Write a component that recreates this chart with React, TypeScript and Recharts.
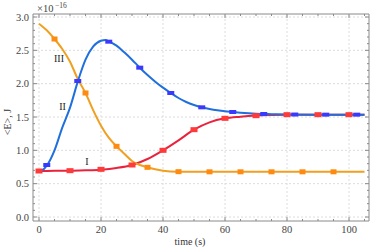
import React from 'react';
import { ComposedChart, Line, Scatter, XAxis, YAxis, ReferenceLine } from 'recharts';

// Curve I (red)
const curveI_t = [0, 5, 10, 15, 20, 25, 30, 35, 40, 45, 50, 55, 60, 65, 70, 75, 80, 90, 105];
const curveI_v = [0.69, 0.692, 0.695, 0.70, 0.71, 0.735, 0.78, 0.87, 1.0, 1.15, 1.31, 1.42, 1.48, 1.505, 1.522, 1.531, 1.535, 1.535, 1.535];
// Curve II (blue)
const curveII_t = [0, 1, 2.5, 5, 7.5, 10, 12.5, 15, 17.5, 20, 21.5, 22.5, 25, 27.5, 30, 32.5, 35, 37.5, 40, 42.5, 45, 47.5, 50, 52.5, 55, 57.5, 60, 62.5, 65, 70, 75, 80, 90, 105];
const curveII_v = [0.69, 0.70, 0.77, 1.0, 1.34, 1.64, 2.03, 2.36, 2.56, 2.645, 2.655, 2.635, 2.57, 2.47, 2.36, 2.24, 2.13, 2.03, 1.94, 1.86, 1.785, 1.725, 1.68, 1.645, 1.62, 1.60, 1.585, 1.575, 1.565, 1.55, 1.543, 1.538, 1.535, 1.535];
// Curve III (orange)
const curveIII_t = [0, 2.5, 5, 7.5, 10, 12.5, 15, 17.5, 20, 22.5, 25, 27.5, 30, 32.5, 35, 37.5, 40, 45, 50, 60, 105];
const curveIII_v = [2.90, 2.80, 2.67, 2.52, 2.33, 2.07, 1.86, 1.60, 1.37, 1.19, 1.06, 0.95, 0.84, 0.78, 0.745, 0.715, 0.695, 0.68, 0.678, 0.678, 0.678];

// Markers
const markI_t = [0, 10, 20, 30, 40, 50, 60, 70, 80, 90, 100];
const markI_v = [0.69, 0.695, 0.715, 0.78, 1.0, 1.31, 1.48, 1.52, 1.535, 1.535, 1.535];
const markII_t = [2.5, 12.5, 22.5, 32.5, 42.5, 52.5, 62.5, 72.5, 82.5, 92.5, 102.5];
const markII_v = [0.78, 2.04, 2.63, 2.24, 1.86, 1.645, 1.575, 1.545, 1.537, 1.535, 1.535];
const markIII_t = [5, 15, 25, 35, 45, 55, 65, 75, 85, 95];
const markIII_v = [2.67, 1.86, 1.06, 0.745, 0.68, 0.678, 0.678, 0.678, 0.678, 0.678];

const xMajor = [0, 20, 40, 60, 80, 100];
const yMajor = [0, 0.5, 1.0, 1.5, 2.0, 2.5, 3.0];
const xTicks: number[] = [];
for (let i = 0; i <= 21; i++) xTicks.push(i * 5);
const yTicks: number[] = [];
for (let i = 0; i <= 30; i++) yTicks.push(Math.round(i) / 10);

const zip = (t: number[], v: number[]) => t.map((tt, i) => ({ t: tt, v: v[i] }));
const dI = zip(curveI_t, curveI_v);
const dII = zip(curveII_t, curveII_v);
const dIII = zip(curveIII_t, curveIII_v);
const mI = zip(markI_t, markI_v);
const mII = zip(markII_t, markII_v);
const mIII = zip(markIII_t, markIII_v);

const FRAME = '#8a8a8a';
const LABEL = '#444';
const FONT = '"Liberation Serif", "DejaVu Serif", serif';

const isXMajor = (v: number) => Math.abs(v / 20 - Math.round(v / 20)) < 1e-6;
const isYMajor = (v: number) => Math.abs(v * 2 - Math.round(v * 2)) < 1e-6;

const XBottomTick = (p: any) => {
  const { x, y, payload } = p;
  const v = payload.value;
  const major = isXMajor(v);
  return (
    <g>
      <line x1={x} x2={x} y1={y} y2={y - (major ? 4 : 2)} stroke={FRAME} strokeWidth={1} />
      {major && (
        <text x={x} y={y + 12} textAnchor="middle" fontSize={10.5} fontFamily={FONT} fill={LABEL}>
          {v}
        </text>
      )}
    </g>
  );
};
const XTopTick = (p: any) => {
  const { x, y, payload } = p;
  const major = isXMajor(payload.value);
  return <line x1={x} x2={x} y1={y} y2={y + (major ? 4 : 2)} stroke={FRAME} strokeWidth={1} />;
};
const YLeftTick = (p: any) => {
  const { x, y, payload } = p;
  const v = payload.value;
  const major = isYMajor(v);
  return (
    <g>
      <line x1={x} x2={x + (major ? 4 : 2)} y1={y} y2={y} stroke={FRAME} strokeWidth={1} />
      {major && (
        <text x={x - 4} y={y + 3.5} textAnchor="end" fontSize={10.5} fontFamily={FONT} fill={LABEL}>
          {v.toFixed(1)}
        </text>
      )}
    </g>
  );
};
const YRightTick = (p: any) => {
  const { x, y, payload } = p;
  const major = isYMajor(payload.value);
  return <line x1={x} x2={x - (major ? 4 : 2)} y1={y} y2={y} stroke={FRAME} strokeWidth={1} />;
};

const rectShape = (w: number, h: number, fill: string) => (p: any) => {
  const { cx, cy } = p;
  if (cx == null || cy == null) return <g />;
  return <rect x={cx - w / 2} y={cy - h / 2} width={w} height={h} fill={fill} />;
};

const RED = '#e8233e';
const BLUE = '#1f6fdc';
const ORANGE = '#f0a020';

export default function App() {
  return (
    <div style={{ position: 'absolute', left: 0, top: 0, width: 374, height: 250, background: '#fff' }}>
      <ComposedChart width={374} height={250} margin={{ top: 13, right: 0, bottom: 0, left: 0 }}>
        <XAxis
          xAxisId={0}
          dataKey="t"
          type="number"
          domain={[-1.94, 106.45]}
          allowDataOverflow
          ticks={xTicks}
          interval={0}
          tickSize={0}
          tickMargin={0}
          tickLine={false}
          tick={XBottomTick}
          axisLine={{ stroke: FRAME }}
          height={29}
        />
        <XAxis
          xAxisId="top"
          orientation="top"
          dataKey="t"
          type="number"
          domain={[-1.94, 106.45]}
          allowDataOverflow
          ticks={xTicks}
          interval={0}
          tickSize={0}
          tickMargin={0}
          tickLine={false}
          tick={XTopTick}
          axisLine={{ stroke: FRAME }}
          height={1}
        />
        <YAxis
          yAxisId={0}
          dataKey="v"
          type="number"
          domain={[-0.06, 3.045]}
          allowDataOverflow
          ticks={yTicks}
          interval={0}
          tickSize={0}
          tickMargin={0}
          tickLine={false}
          tick={YLeftTick}
          axisLine={{ stroke: FRAME }}
          width={33}
        />
        <YAxis
          yAxisId="r"
          orientation="right"
          dataKey="v"
          type="number"
          domain={[-0.06, 3.045]}
          allowDataOverflow
          ticks={yTicks}
          interval={0}
          tickSize={0}
          tickMargin={0}
          tickLine={false}
          tick={YRightTick}
          axisLine={{ stroke: FRAME }}
          width={5}
        />
        {xMajor.map((v) => (
          <ReferenceLine key={'gx' + v} x={v} stroke="#dcdcdc" strokeDasharray="2 2" />
        ))}
        {yMajor.map((v) => (
          <ReferenceLine key={'gy' + v} y={v} stroke="#dcdcdc" strokeDasharray="2 2" />
        ))}
        <Line data={dI} dataKey="v" type="monotone" stroke={RED} strokeWidth={2} dot={false} isAnimationActive={false} />
        <Line data={dIII} dataKey="v" type="monotone" stroke={ORANGE} strokeWidth={2} dot={false} isAnimationActive={false} />
        <Line data={dII} dataKey="v" type="monotone" stroke={BLUE} strokeWidth={2} dot={false} isAnimationActive={false} />
        <Scatter data={mI} dataKey="v" shape={rectShape(7, 5, '#ff3a3a')} isAnimationActive={false} />
        <Scatter data={mIII} dataKey="v" shape={rectShape(6, 5, '#ff8a10')} isAnimationActive={false} />
        <Scatter data={mII} dataKey="v" shape={rectShape(7, 4, '#3a3aff')} isAnimationActive={false} />
      </ComposedChart>
      <svg width={374} height={250} style={{ position: 'absolute', left: 0, top: 0, pointerEvents: 'none' }}>
        <text x={37} y={12} fontSize={10.5} fontFamily={FONT} fill={LABEL}>×10</text>
        <text x={55} y={8} fontSize={7.5} fontFamily={FONT} fill={LABEL}>−16</text>
        <text x={190} y={245} textAnchor="middle" fontSize={10} fontFamily={FONT} fill="#333">time (s)</text>
        <text transform="translate(11,122) rotate(-90)" textAnchor="middle" fontSize={10} fontFamily={FONT} fill="#333">{'<E>, J'}</text>
        <text x={59} y={62} textAnchor="middle" fontSize={10} fontFamily={FONT} fill="#222">III</text>
        <text x={62.5} y={110} textAnchor="middle" fontSize={10} fontFamily={FONT} fill="#222">II</text>
        <text x={87} y={164.5} textAnchor="middle" fontSize={10} fontFamily={FONT} fill="#222">I</text>
      </svg>
    </div>
  );
}
